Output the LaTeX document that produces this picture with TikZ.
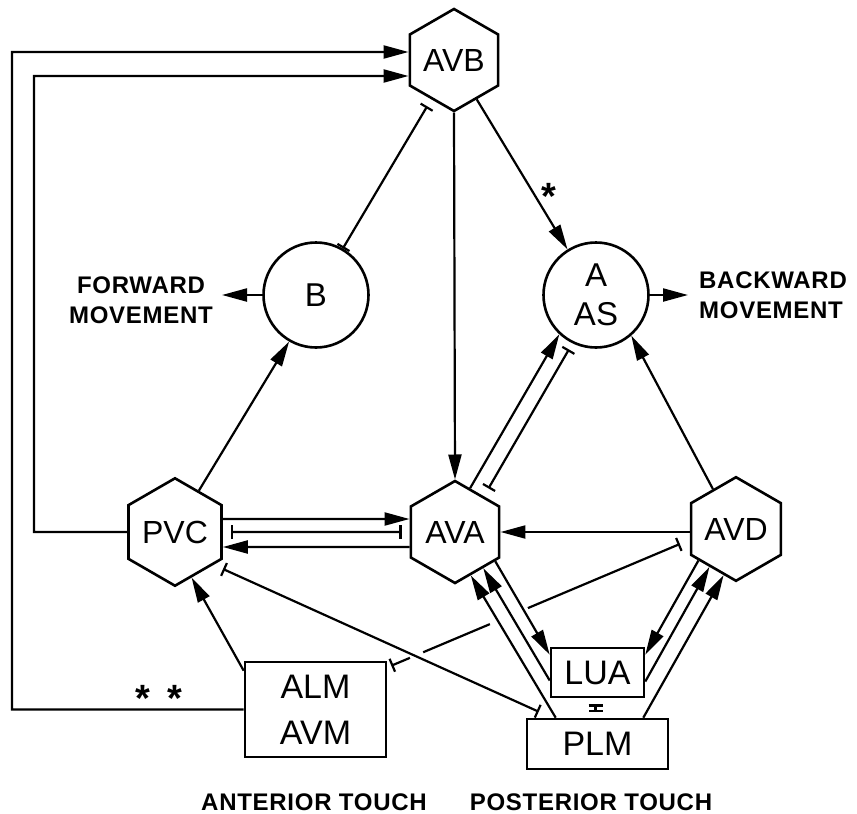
\documentclass[tikz,border=0pt]{standalone}
\usepackage{fontspec}
\setmainfont{Liberation Sans}
\usetikzlibrary{arrows.meta,shapes.geometric,calc}
\begin{document}
\begin{tikzpicture}[x=1pt,y=-1pt,
  hexa/.style={draw,line width=2.6pt,regular polygon,regular polygon sides=6,
    shape border rotate=30,minimum size=102pt,inner sep=0pt,
    font=\fontsize{32}{38}\selectfont},
  circ/.style={draw,line width=2.6pt,circle,minimum size=105pt,inner sep=0pt,
    align=center,font=\fontsize{33}{39}\selectfont},
  boxn/.style={draw,line width=2.6pt,rectangle,inner sep=0pt,align=center,
    font=\fontsize{34}{46}\selectfont},
  lab/.style={inner sep=0pt,font=\bfseries\fontsize{24}{30}\selectfont\addfontfeatures{LetterSpace=3}},
  starl/.style={inner sep=0pt,font=\bfseries\fontsize{38}{40}\selectfont},
  conn/.style={line width=2.2pt},
  arr/.style={conn,-{Triangle[length=25pt,width=13pt]}},
  gj/.style={conn,{Bar[width=14pt]}-{Bar[width=14pt]}},
  gapw/.style={white,line width=6pt}
]
\useasboundingbox (0,0) rectangle (857,814);

% nodes
\node[hexa] (AVB) at (454,60) {AVB};
\node[hexa] (PVC) at (175,532) {PVC};
\node[hexa] (AVA) at (455,532) {AVA};
\node[hexa] (AVD) at (736,529) {AVD};
\node[circ] (B) at (316,295) {B};
\node[circ] (A) at (596,295) {A\\AS};
\node[boxn,minimum width=141pt,minimum height=95pt] (ALM) at (315.5,709.5) {ALM\\AVM};
\node[boxn,minimum width=93pt,minimum height=49pt] (LUA) at (597.5,672.5) {LUA};
\node[boxn,minimum width=141pt,minimum height=50pt] (PLM) at (597.5,744) {PLM};

\node[lab,align=center] (FWD) at (141,300) {FORWARD\\MOVEMENT};
\node[lab,align=left,anchor=west] (BWD) at (699,295) {BACKWARD\\MOVEMENT};
\node[lab] (ANT) at (314,802) {ANTERIOR TOUCH};
\node[lab] (POS) at (591,802) {POSTERIOR TOUCH};
\node[starl] (S1) at (549,196) {*};
\node[starl] (S2) at (159,698) {*\hspace{18pt}*};

\coordinate (fwdtip) at (222,295);
\coordinate (bwdtip) at (688,295);

% long feedback loops to AVB
\draw[arr] (ALM.west) -| (12,52) -- ($(AVB.180)+(0,-8)$);
\draw[arr] (PVC.180) -| (34,76) -- ($(AVB.180)+(0,16)$);

% AVB outputs
\draw[arr] (AVB.-90) -- (AVA.90);
\draw[arr] (AVB.-60) -- (A.122);
\draw[gj,shorten >=8pt] (B.60) -- (AVB.-120);

% motor outputs
\draw[arr] (B.180) -- (fwdtip);
\draw[arr] (A.0) -- (bwdtip);

% PVC
\draw[arr] (PVC.60) -- (B.-120);
\draw[arr] ($(PVC.0)+(0,-13)$) -- ($(AVA.180)+(0,-13)$);
\draw[gj] ($(PVC.0)+(8,0)$) -- ($(AVA.180)+(-8,0)$);
\draw[arr] ($(AVA.180)+(0,15)$) -- ($(PVC.0)+(0,15)$);

% AVA to A
\draw[arr] (AVA.71) -- (A.-133);
\draw[gj,shorten <=9pt,shorten >=7pt] (AVA.51) -- (A.-116);

% AVD
\draw[arr] (AVD.120) -- (A.-49);
\draw[arr] (AVD.180 |- AVA.0) -- (AVA.0);

% ALM
\draw[arr] ($(ALM.north west)+(0,10)$) -- (PVC.-70);
\coordinate (P) at ($(ALM.north east)+(4,5)$);
\coordinate (Q) at ($(AVD.180)+(-10,15)$);
\draw[gj] (P) -- (Q);
\draw[gapw] ($(P)!0.065!(Q)$) -- ($(P)!0.11!(Q)$);
\draw[gapw] ($(P)!0.342!(Q)$) -- ($(P)!0.473!(Q)$);

% PLM to PVC
\draw[gj] ($(PVC)+(48,37)$) -- ($(PLM.north west)+(13,-6)$);

% AVA / LUA / PLM
\draw[arr] ($(PLM.north west)+(30,0)$) -- (AVA.-70);
\draw[arr] ($(LUA.west)+(0,8)$) -- (AVA.-52);
\draw[arr] (AVA.-36) -- ($(LUA.north west)+(0,8)$);

% AVD / LUA / PLM
\draw[arr] (AVD.-140) -- ($(LUA.north east)+(0,8)$);
\draw[arr] ($(LUA.east)+(0,9)$) -- (AVD.-125);
\draw[arr] ($(PLM.north east)+(-26,0)$) -- (AVD.-105);

% LUA - PLM
\draw[gj] ($(LUA.south)+(-2,6)$) -- ($(PLM.north)+(-2,-6)$);
\end{tikzpicture}
\end{document}
